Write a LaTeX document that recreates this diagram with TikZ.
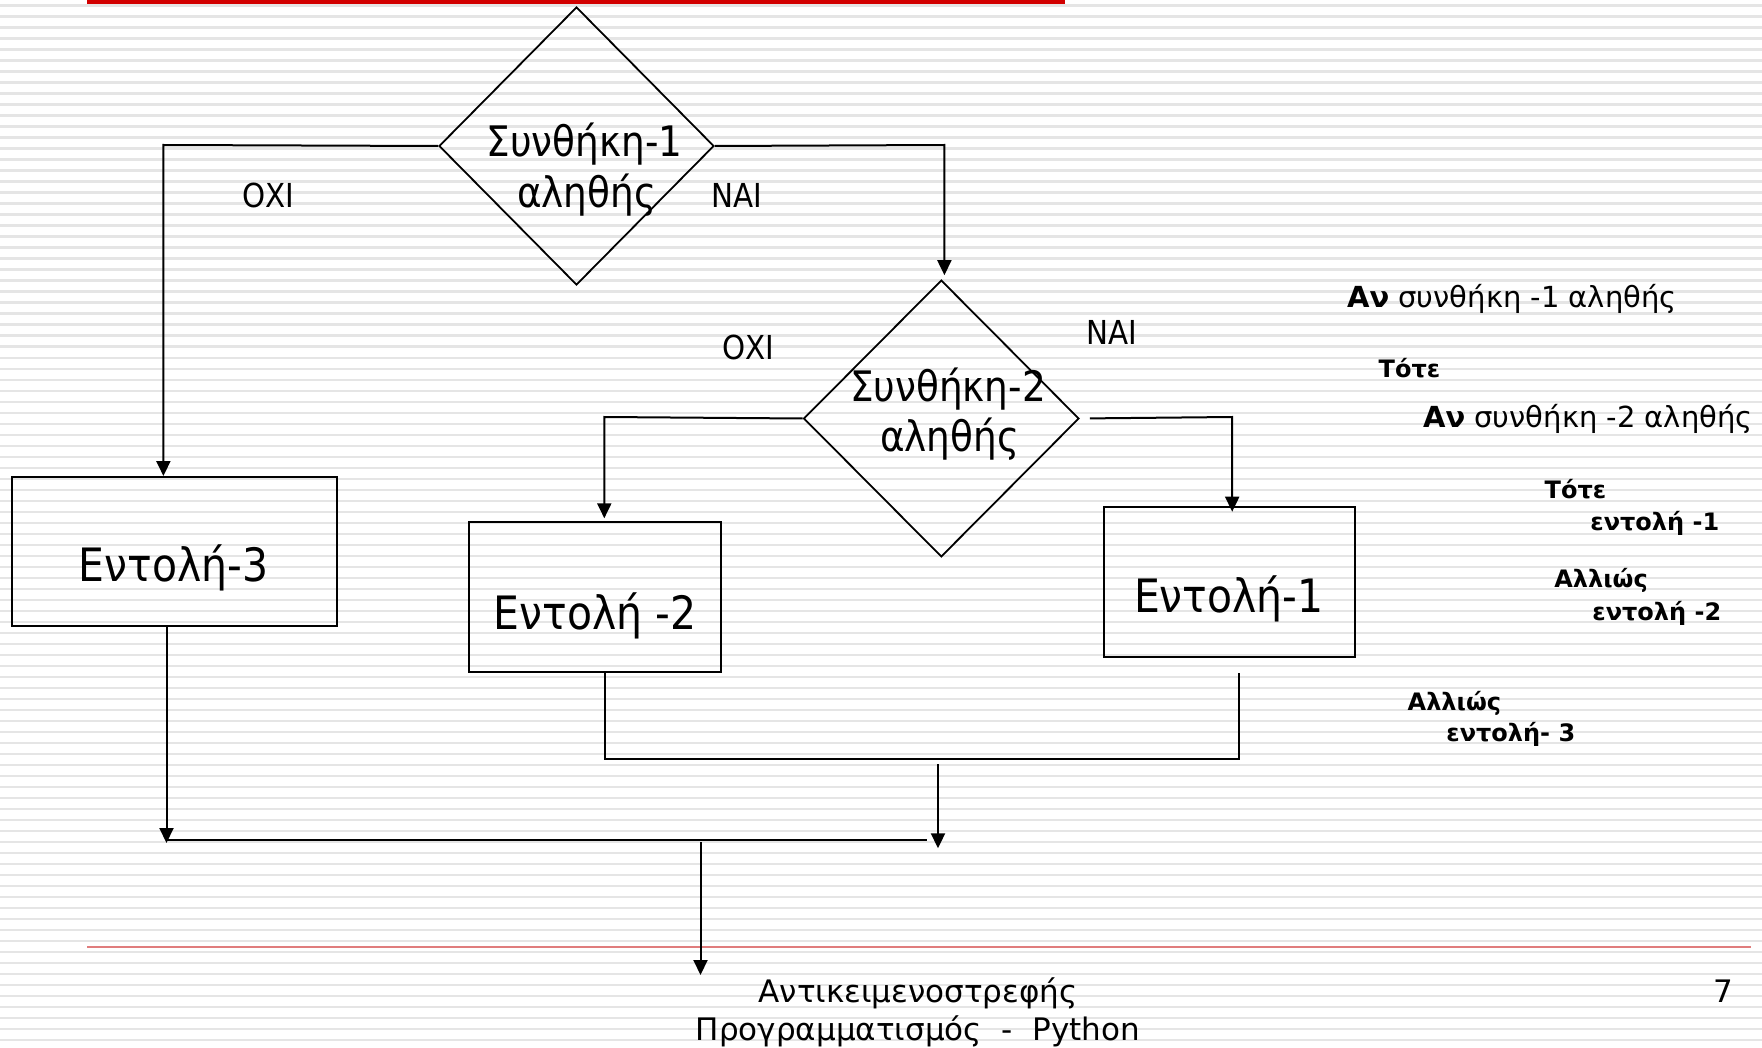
\documentclass[tikz,border=0pt]{standalone}
\usepackage{fontspec}
\setmainfont{DejaVu Sans}
\newfontfamily\nar[FakeStretch=0.89]{DejaVu Sans}
\usetikzlibrary{shapes.geometric,arrows.meta}
\definecolor{topred}{RGB}{210,0,0}
\definecolor{footred}{RGB}{224,125,125}
\definecolor{stripegray}{RGB}{229,229,229}
\begin{document}
\begin{tikzpicture}[x=0.5pt,y=-0.5pt,
  ln/.style={line width=1pt, black},
  arr/.style={ln, -{Triangle[length=7.5pt,width=7pt]}},
  decision/.style={diamond, draw, line width=0.9pt, inner sep=0pt},
  cmdbox/.style={rectangle, draw, line width=1pt, inner sep=0pt, text height=0pt, text depth=0pt},
  boxtext/.style={font=\nar\fontsize{23}{27}\selectfont, anchor=base, inner sep=0pt},
  dtext/.style={font=\nar\fontsize{21}{25}\selectfont, anchor=base, inner sep=0pt},
  yn/.style={font=\nar\fontsize{16.5}{19}\selectfont, inner sep=0pt},
  rt/.style={font=\fontsize{14.5}{17}\selectfont, anchor=base west, inner sep=0pt},
  rb/.style={font=\bfseries\fontsize{12}{14}\selectfont, anchor=base west, inner sep=0pt},
  foot/.style={font=\fontsize{15.5}{18}\selectfont, anchor=base, inner sep=0pt}]
\useasboundingbox (0,0) rectangle (1762,1048);
\fill[white] (0,0) rectangle (1762,1048);
\foreach \i in {0,...,95} {
  \fill[stripegray] (0,4.5+11*\i) rectangle (1762,7+11*\i);
}
% header and footer rules
\fill[topred] (87,0) rectangle (1065,4.5);
\draw[footred, line width=1.2pt] (87,947) -- (1751,947);

% decisions
\node[decision, minimum width=137.5pt, minimum height=139pt] (d1) at (576.5,146) {};
\node[decision, minimum width=137.7pt, minimum height=138.4pt] (d2) at (941.3,418.5) {};
\node[dtext] (d1a) at (584.5,157) {Συνθήκη-1};
\node[dtext] (d1b) at (586.7,208) {αληθής};
\node[dtext] (d2a) at (948,401) {Συνθήκη-2};
\node[dtext] (d2b) at (949.6,451) {αληθής};

% commands
\node[cmdbox, minimum width=162.5pt, minimum height=74.5pt] (e3) at (174.5,551.5) {};
\node[cmdbox, minimum width=125.85pt, minimum height=74.7pt] (e2) at (594.9,597) {};
\node[cmdbox, minimum width=125.35pt, minimum height=75pt] (e1) at (1229.4,581.7) {};
\node[boxtext] (e3t) at (173.5,581.5) {Εντολή-3};
\node[boxtext] (e2t) at (595,629) {Εντολή -2};
\node[boxtext] (e1t) at (1228.8,612.5) {Εντολή-1};

% yes / no labels
\node[yn] (no1) at (268.5,195) {ΟΧΙ};
\node[yn] (yes1) at (737,195) {ΝΑΙ};
\node[yn] (no2) at (748,347.5) {ΟΧΙ};
\node[yn] (yes2) at (1111.6,332.5) {ΝΑΙ};

% connectors
\coordinate (c1) at (163.4,145);
\draw[arr] (d1.west) -- (c1) -- (c1 |- e3.north);
\coordinate (c2) at (944.4,145);
\draw[arr, shorten >=2pt] (d1.east) -- (c2) -- (c2 |- d2.north);
\coordinate (c3) at (604.3,417);
\draw[arr, shorten >=1.5pt] (d2.west) -- (c3) -- (c3 |- e2.north);
\coordinate (c4) at (1232.2,417);
\draw[arr, shorten <=5pt, shorten >=-3pt] (d2.east) -- (c4) -- (c4 |- e1.north);

\coordinate (j1) at (166.5,840);
\coordinate (j2) at (926.6,840);
\draw[arr, shorten >=-1.5pt] (e3.south -| j1) -- (j1);
\draw[ln] (j1) -- (j2);

\coordinate (m1) at (605,759.3);
\coordinate (m2) at (1238.7,759.3);
\coordinate (m3) at (1238.7,673.3);
\draw[ln] (e2.south -| m1) -- (m1) -- (m2) -- (m3);

\coordinate (a1) at (938,764);
\coordinate (a2) at (938,848.3);
\draw[arr] (a1) -- (a2);

\coordinate (b1) at (700.5,842.3);
\coordinate (b2) at (700.5,975);
\draw[arr] (b1) -- (b2);

% pseudo code
\node[rt] (p1) at (1346.7,307) {\textbf{Αν} συνθήκη -1 αληθής};
\node[rb] (p2) at (1378.3,377.3) {Τότε};
\node[rt] (p3) at (1422.7,427) {\textbf{Αν} συνθήκη -2 αληθής};
\node[rb] (p4) at (1544.3,498.5) {Τότε};
\node[rb] (p5) at (1590,530.5) {εντολή -1};
\node[rb] (p6) at (1554,587.3) {Αλλιώς};
\node[rb] (p7) at (1592,620) {εντολή -2};
\node[rb] (p8) at (1407.3,710) {Αλλιώς};
\node[rb] (p9) at (1446,741.5) {εντολή- 3};

% footer
\node[foot] (f1) at (918,1002) {Αντικειμενοστρεφής};
\node[foot] (f2) at (918,1040) {Προγραμματισμός\ \ -\ \ Python};
\node[foot] (pg) at (1723,1002) {7};
\end{tikzpicture}
\end{document}
